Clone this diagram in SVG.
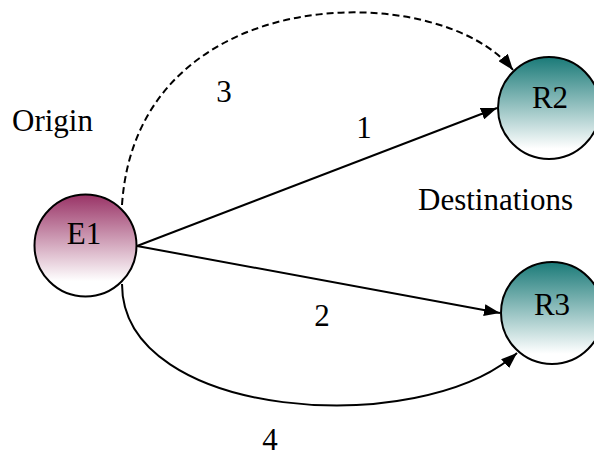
<svg xmlns="http://www.w3.org/2000/svg" width="594" height="456" viewBox="0 0 594 456">
<style>
text{font-family:"Liberation Serif","Times New Roman",serif;font-size:31px;fill:#000}
.node{stroke:#000;stroke-width:2}
.edge{fill:none;stroke:#000;stroke-width:2}
.dash{stroke-dasharray:7,4}
</style>
<defs>
<linearGradient id="gE" x1="0" y1="0" x2="0" y2="1">
<stop offset="0" stop-color="#993366"/>
<stop offset="0.85" stop-color="#ffffff"/>
</linearGradient>
<linearGradient id="gR" x1="0" y1="0" x2="0" y2="1">
<stop offset="0" stop-color="#1a7a78"/>
<stop offset="0.9" stop-color="#ffffff"/>
</linearGradient>
<marker id="arr" viewBox="0 0 16 12" refX="16" refY="6" markerWidth="16" markerHeight="12" markerUnits="userSpaceOnUse" orient="auto">
<path d="M0,0 L16,6 L0,12 z" fill="#000"/>
</marker>
</defs>
<g id="connectors">
<path class="edge" d="M137,246 L497,108" marker-end="url(#arr)"/>
<path class="edge" d="M137,246 L500,313" marker-end="url(#arr)"/>
<path class="edge dash" d="M122,205 C137,-22 440,-22 513,70" marker-end="url(#arr)"/>
<path class="edge" d="M122,284 C122,420 420,440 517,353" marker-end="url(#arr)"/>
</g>
<g id="E1">
<circle class="node" cx="85.5" cy="245.5" r="51" fill="url(#gE)"/>
<text x="84" y="244" text-anchor="middle">E1</text>
</g>
<g id="R2">
<circle class="node" cx="549" cy="108" r="51" fill="url(#gR)"/>
<text x="550" y="108" text-anchor="middle">R2</text>
</g>
<g id="R3">
<circle class="node" cx="552" cy="313" r="51" fill="url(#gR)"/>
<text x="552" y="315" text-anchor="middle">R3</text>
</g>
<g id="labels">
<text x="12" y="131">Origin</text>
<text x="418" y="210">Destinations</text>
<text x="224" y="102" text-anchor="middle">3</text>
<text x="364" y="138" text-anchor="middle">1</text>
<text x="322" y="326" text-anchor="middle">2</text>
<text x="270" y="450" text-anchor="middle">4</text>
</g>
</svg>
